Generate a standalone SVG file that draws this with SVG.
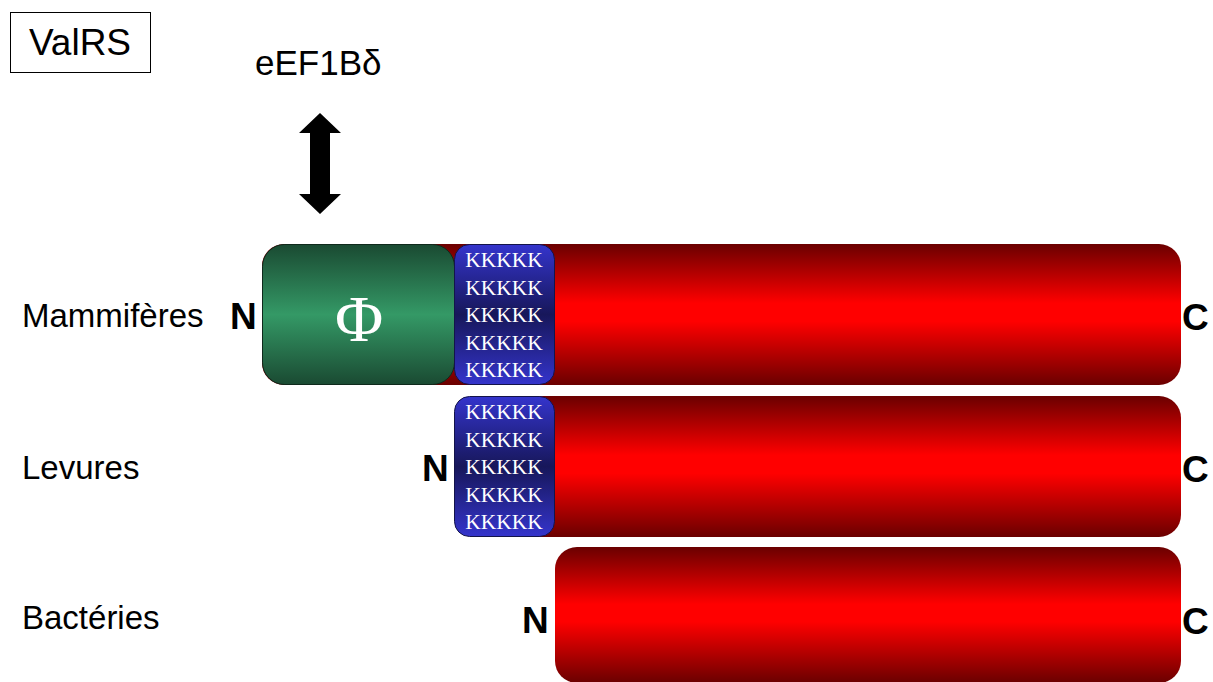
<svg xmlns="http://www.w3.org/2000/svg" width="1213" height="682" viewBox="0 0 1213 682">
<defs>
<linearGradient id="gRed" x1="0" y1="0" x2="0" y2="1">
<stop offset="0" stop-color="#6a0000"/>
<stop offset="0.42" stop-color="#ff0000"/>
<stop offset="0.55" stop-color="#ff0000"/>
<stop offset="1" stop-color="#6a0000"/>
</linearGradient>
<linearGradient id="gGreen" x1="0" y1="0" x2="0" y2="1">
<stop offset="0" stop-color="#1a4a32"/>
<stop offset="0.5" stop-color="#349966"/>
<stop offset="1" stop-color="#1a4a32"/>
</linearGradient>
<linearGradient id="gBlue" x1="0" y1="0" x2="0" y2="1">
<stop offset="0" stop-color="#3434cc"/>
<stop offset="0.5" stop-color="#17175a"/>
<stop offset="1" stop-color="#3434cc"/>
</linearGradient>
</defs>
<style>
.lbl{font-family:"Liberation Sans",Arial,sans-serif;font-size:33px;fill:#000}
.term{font-family:"Liberation Sans",Arial,sans-serif;font-size:37px;font-weight:bold;fill:#000}
.red{fill:url(#gRed)}
.blue{fill:url(#gBlue);stroke:#14144a;stroke-width:1}
.kk{font-family:"Liberation Serif","Times New Roman",serif;font-size:21.5px;fill:#fff;text-anchor:middle}
</style>
<rect width="1213" height="682" fill="#fff"/>

<g id="title">
<rect x="10.5" y="12.5" width="140" height="60" fill="#fff" stroke="#000" stroke-width="1"/>
<text x="80" y="55" class="lbl" style="font-size:37px" text-anchor="middle">ValRS</text>
</g>

<g id="eef1bd">
<text x="255" y="75" class="lbl" style="font-size:35px">eEF1Bδ</text>
</g>

<g id="connectors">
<polygon points="320,113 341,133 330,133 330,194 341,194 320,214 299,194 310,194 310,133 299,133" fill="#000"/>
</g>

<g id="row-mammiferes">
<text x="22" y="327" class="lbl">Mammifères</text>
<text x="230" y="329" class="term">N</text>
<rect x="262" y="244" width="919" height="141" rx="22" class="red"/>
<rect x="262.5" y="244.5" width="192" height="140" rx="22" fill="url(#gGreen)" stroke="#0f2a1c" stroke-width="1"/>
<text x="359" y="341" font-family="'Liberation Serif','Times New Roman',serif" font-size="66" fill="#fff" text-anchor="middle">Φ</text>
<rect x="454.5" y="244.5" width="100" height="140" rx="15" class="blue"/>
<text class="kk" x="504" y="267">KKKKK</text>
<text class="kk" x="504" y="295">KKKKK</text>
<text class="kk" x="504" y="322">KKKKK</text>
<text class="kk" x="504" y="350">KKKKK</text>
<text class="kk" x="504" y="377">KKKKK</text>
<text x="1182" y="330" class="term">C</text>
</g>

<g id="row-levures">
<text x="22" y="479" class="lbl">Levures</text>
<text x="422" y="481" class="term">N</text>
<rect x="454" y="396" width="727" height="141" rx="22" class="red"/>
<rect x="454.5" y="396.5" width="100" height="140" rx="15" class="blue"/>
<text class="kk" x="504" y="419">KKKKK</text>
<text class="kk" x="504" y="447">KKKKK</text>
<text class="kk" x="504" y="474">KKKKK</text>
<text class="kk" x="504" y="502">KKKKK</text>
<text class="kk" x="504" y="529">KKKKK</text>
<text x="1182" y="482" class="term">C</text>
</g>

<g id="row-bacteries">
<text x="22" y="629" class="lbl">Bactéries</text>
<text x="522" y="633" class="term">N</text>
<rect x="555" y="547" width="626" height="136" rx="22" class="red"/>
<text x="1182" y="634" class="term">C</text>
</g>
</svg>
